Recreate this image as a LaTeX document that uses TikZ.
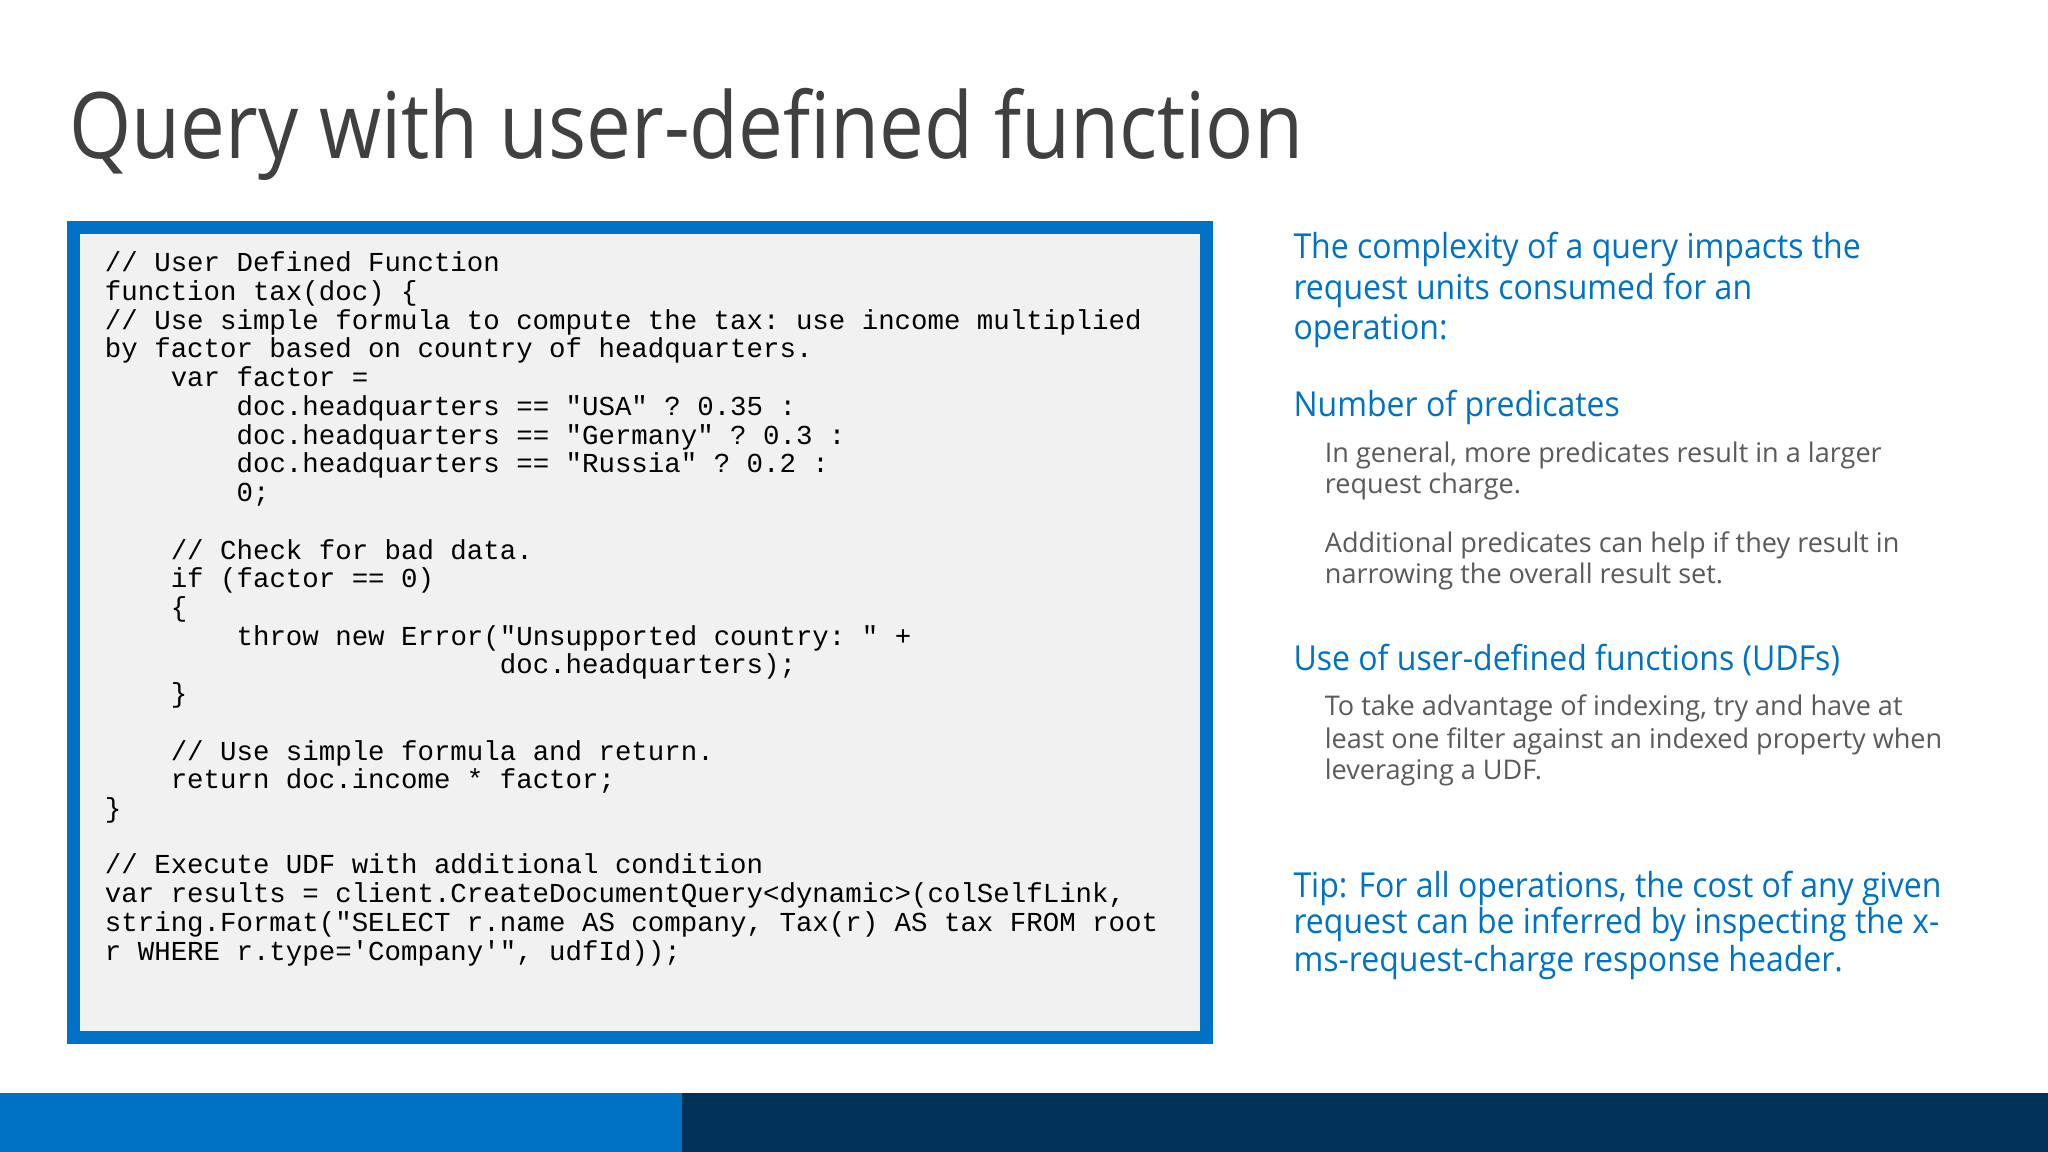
\documentclass[tikz,border=0pt]{standalone}
\usepackage{fontspec}
\setmainfont{Open Sans}
\newfontfamily\titlefont[FakeStretch=0.87]{Open Sans}
\newfontfamily\bluefont[FakeStretch=0.93]{Open Sans}
\setmonofont{Liberation Mono}
\definecolor{msblue}{RGB}{0,114,198}
\definecolor{navy}{RGB}{0,50,90}
\definecolor{titlegray}{RGB}{64,64,64}
\definecolor{bodygray}{RGB}{90,90,90}
\definecolor{codebg}{RGB}{241,241,241}
\tikzset{
 code/.style={anchor=base west,inner sep=0pt,font=\fontsize{11.95}{12.5}\selectfont\ttfamily,text=black},
 blue1/.style={anchor=base west,inner sep=0pt,font=\bluefont\fontsize{15}{17}\selectfont,text=msblue},
 gray1/.style={anchor=base west,inner sep=0pt,font=\fontsize{11.8}{14}\selectfont,text=bodygray},
}
\newcommand{\cl}[4]{\node[code] (#1) at ({80+12.6*#3},{#2+7}) {#4};}
\begin{document}
\begin{tikzpicture}[x=0.02cm,y=-0.02cm]
\useasboundingbox (0,0) rectangle (1568,882);
\fill[white] (0,0) rectangle (1568,882);
\node[anchor=base west,inner sep=0pt,text=titlegray,font=\titlefont\fontsize{40}{46}\selectfont] (title) at (53,121) {Query with user-defined function};
\draw[msblue,line width=0.2cm,fill=codebg] (56,174) rectangle (924,794);
\cl{c1}{201}{0}{// User Defined Function}
\cl{c2}{223}{0}{function tax(doc) \{}
\cl{c3}{245}{0}{// Use simple formula to compute the tax: use income multiplied}
\cl{c4}{267}{0}{by factor based on country of headquarters.}
\cl{c5}{289}{4}{var factor =}
\cl{c6}{311}{8}{doc.headquarters == "USA" ? 0.35 :}
\cl{c7}{333}{8}{doc.headquarters == "Germany" ? 0.3 :}
\cl{c8}{355}{8}{doc.headquarters == "Russia" ? 0.2 :}
\cl{c9}{377}{8}{0;}
\cl{c10}{421}{4}{// Check for bad data.}
\cl{c11}{443}{4}{if (factor == 0)}
\cl{c12}{465}{4}{\{}
\cl{c13}{487}{8}{throw new Error("Unsupported country: " +}
\cl{c14}{509}{24}{doc.headquarters);}
\cl{c15}{531}{4}{\}}
\cl{c16}{575}{4}{// Use simple formula and return.}
\cl{c17}{597}{4}{return doc.income * factor;}
\cl{c18}{619}{0}{\}}
\cl{c19}{662}{0}{// Execute UDF with additional condition}
\cl{c20}{684}{0}{var results = client.CreateDocumentQuery<dynamic>(colSelfLink,}
\cl{c21}{706}{0}{string.Format("SELECT r.name AS company, Tax(r) AS tax FROM root}
\cl{c22}{728}{0}{r WHERE r.type='Company'", udfId));}
\node[blue1] (r1) at (990,198) {The complexity of a query impacts the};
\node[blue1] (r2) at (990,229) {request units consumed for an};
\node[blue1] (r3) at (990,260) {operation:};
\node[blue1] (h1) at (990,319) {Number of predicates};
\node[gray1] (g1) at (1014,354) {In general, more predicates result in a larger};
\node[gray1] (g2) at (1014,378) {request charge.};
\node[gray1] (g3) at (1014,423) {Additional predicates can help if they result in};
\node[gray1] (g4) at (1014,447) {narrowing the overall result set.};
\node[blue1] (h2) at (990,513) {Use of user-defined functions (UDFs)};
\node[gray1] (g5) at (1014,548) {To take advantage of indexing, try and have at};
\node[gray1] (g6) at (1014,573) {least one filter against an indexed property when};
\node[gray1] (g7) at (1014,597) {leveraging a UDF.};
\node[blue1] (t1) at (990,687) {Tip: For all operations, the cost of any given};
\node[blue1] (t2) at (990,715) {request can be inferred by inspecting the x-};
\node[blue1] (t3) at (990,744) {ms-request-charge response header.};
\fill[msblue] (0,837) rectangle (522,882);
\fill[navy] (522,837) rectangle (1568,882);
\end{tikzpicture}
\end{document}
